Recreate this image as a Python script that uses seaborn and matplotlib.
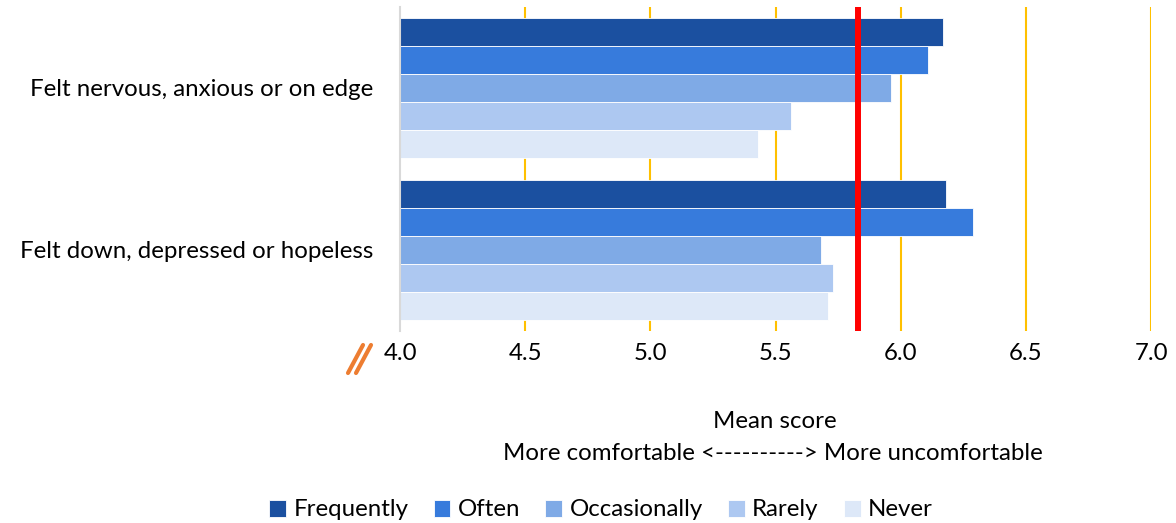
import matplotlib
matplotlib.use("Agg")
import matplotlib.pyplot as plt
from matplotlib.lines import Line2D
import seaborn as sns
import pandas as pd

categories = ["Felt nervous, anxious or on edge", "Felt down, depressed or hopeless"]
frequencies = ["Frequently", "Often", "Occasionally", "Rarely", "Never"]
nervous_values = [6.17, 6.11, 5.96, 5.56, 5.43]
down_values = [6.18, 6.29, 5.68, 5.73, 5.71]
reference_mean = 5.83
x_ticks = [4.0, 4.5, 5.0, 5.5, 6.0, 6.5, 7.0]
colors = ["#1B50A0", "#377BDC", "#7FAAE6", "#ADC8F1", "#DDE8F8"]

rows = []
for cat, vals in zip(categories, [nervous_values, down_values]):
    for f, v in zip(frequencies, vals):
        rows.append({"category": cat, "frequency": f, "value": v})
df = pd.DataFrame(rows)

sns.set_theme(style="white")
plt.rcParams["font.family"] = ["Lato", "DejaVu Sans"]
plt.rcParams["text.color"] = "black"
plt.rcParams["xtick.color"] = "black"
plt.rcParams["ytick.color"] = "black"

FS = 17.3

fig = plt.figure(figsize=(11.76, 5.23), dpi=100)
ax = fig.add_axes([400/1176, 1-331/523, 751/1176, 324/523])

sns.barplot(data=df, y="category", x="value", hue="frequency",
            order=categories, hue_order=frequencies, palette=colors,
            orient="h", width=0.867, gap=0, ax=ax,
            edgecolor="white", linewidth=0.6, saturation=1, legend=True)

ax.set_xlim(4.0, 7.0)
ax.set_xticks(x_ticks)
ax.set_xticklabels([f"{t:.1f}" for t in x_ticks], fontsize=FS)
ax.tick_params(axis="x", length=0, pad=9, labelcolor="black")
ax.tick_params(axis="y", length=0, pad=19, labelsize=FS, labelcolor="black")
ax.set_xlabel("")
ax.set_ylabel("")

for t in x_ticks[1:]:
    ax.axvline(t, color="#FFC000", lw=1.5, zorder=0)
ax.axvline(reference_mean, color="#FF0000", lw=4.3, zorder=5)

for s in ["top", "right", "bottom"]:
    ax.spines[s].set_visible(False)
ax.spines["left"].set_color("#D9D9D9")
ax.spines["left"].set_linewidth(1.5)

handles, labels = ax.get_legend_handles_labels()
ax.get_legend().remove()
fig.legend(handles, labels, loc="center", bbox_to_anchor=(601/1176, 1-510/523),
           ncol=5, frameon=False, fontsize=FS, handlelength=0.7, handleheight=0.7,
           handletextpad=0.3, columnspacing=1.05, labelcolor="black")

fig.text(775/1176, 1-421/523, "Mean score", ha="center", va="center", fontsize=FS, color="black")
fig.text(773/1176, 1-454/523, "More comfortable <----------> More uncomfortable",
         ha="center", va="center", fontsize=FS, color="black")

for x0 in [348, 356]:
    fig.add_artist(Line2D([x0/1176, (x0+15)/1176], [1-373/523, 1-345/523],
                          transform=fig.transFigure, color="#ED7D31", lw=3))

fig.savefig("out.png", dpi=100)
